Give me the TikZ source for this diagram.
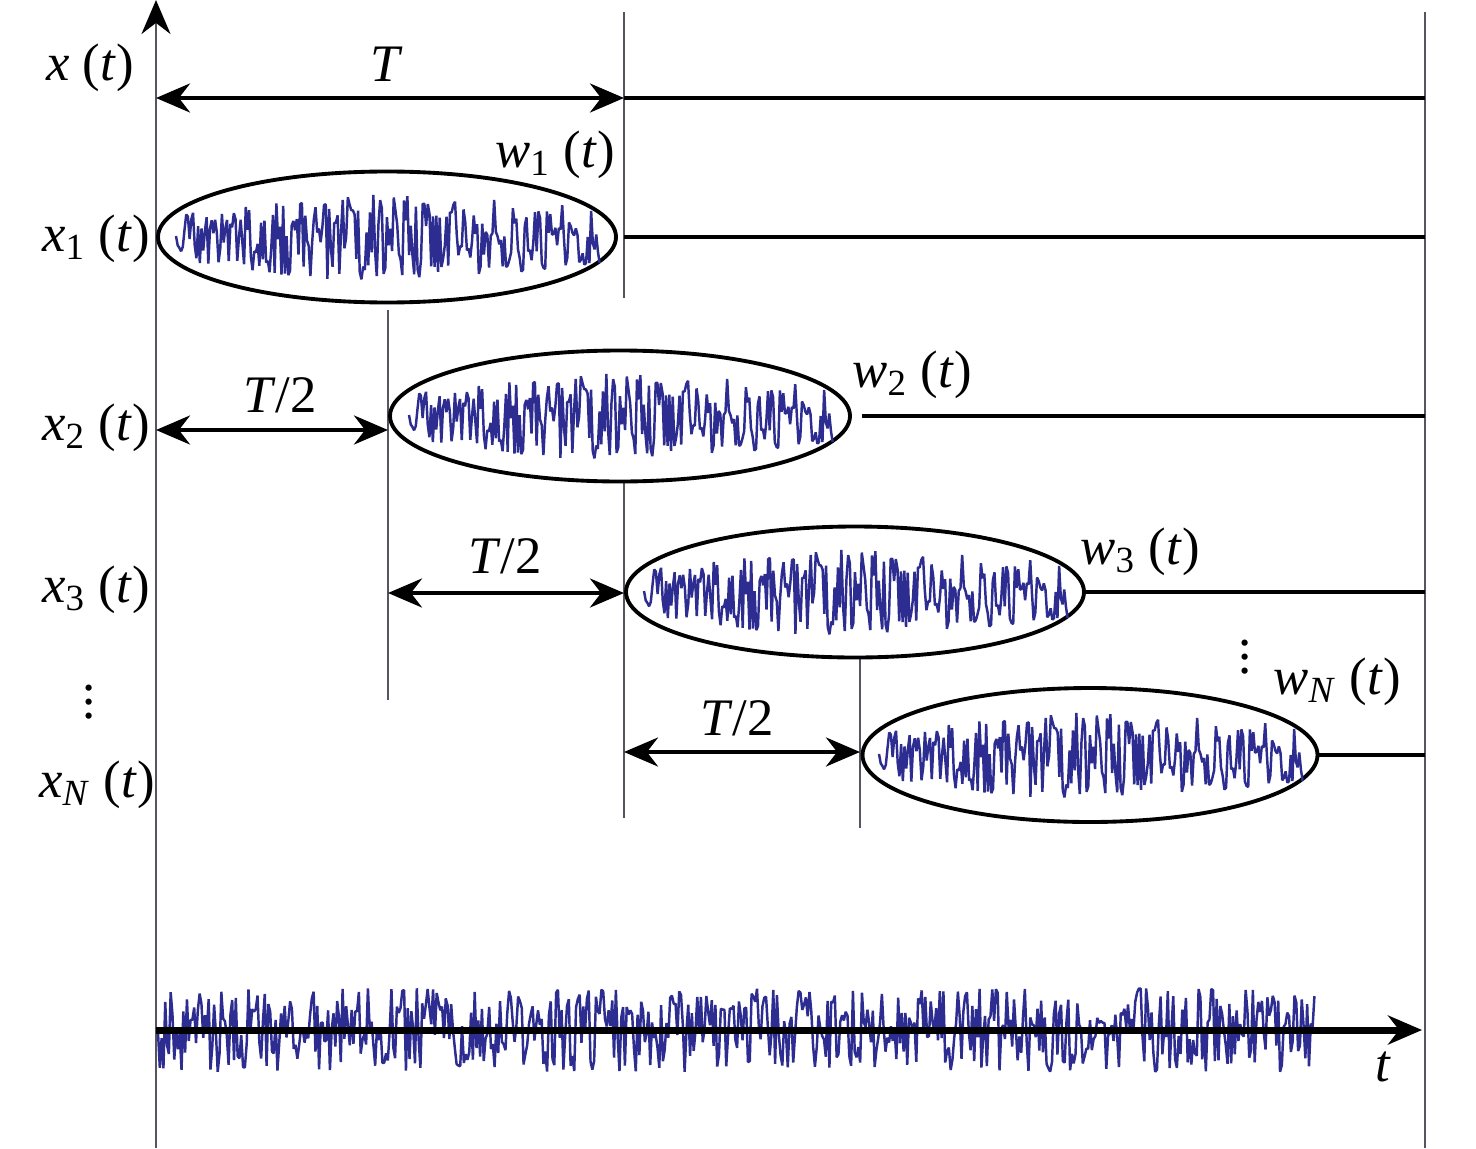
\documentclass[tikz,border=0pt]{standalone}
\usepackage{fontspec}
\setmainfont{Liberation Serif}
\usetikzlibrary{shapes.geometric}
\usetikzlibrary{positioning}
\usetikzlibrary{calc}
\usetikzlibrary{arrows.meta}
\definecolor{noiseblue}{RGB}{45,45,145}
\definecolor{rulegray}{RGB}{85,85,95}
\tikzset{every picture/.style={line width=1.1pt},every node/.style={font=\fontsize{15}{18}\selectfont}}

\begin{document}
\begin{tikzpicture}[win/.style={ellipse, draw, inner sep=0pt, minimum width=4.58cm, minimum height=1.31cm},
tick/.style={rulegray, line width=0.8pt},
dim/.style={{Stealth[length=0.34cm,width=0.29cm]}-{Stealth[length=0.34cm,width=0.29cm]}},
noise/.style={noiseblue, line width=0.7pt, line join=bevel}]
\useasboundingbox (0,0) rectangle (14.76,11.48);

% axis and right border
\coordinate (o) at (1.56,0);
\coordinate (otop) at (1.56,11.48);
\coordinate (r) at (14.25,0);
\coordinate (rtop) at (14.25,11.36);
\draw[tick,-{Stealth[length=0.34cm,width=0.29cm,black]}] (o) -- (otop);
\draw[tick] (r) -- (rtop);

% window borders
\foreach \i/\x/\ya/\yb in {1/6.24/11.36/8.50,2/3.88/8.38/4.48,3/6.24/6.68/3.30,4/8.60/4.90/3.20} {
\coordinate (t\i) at (\x,\ya);
\coordinate (u\i) at (\x,\yb);
\draw[tick] (t\i) -- (u\i);
}

% windows
\node (e1) at (3.87,9.11) [win] {};
\node (e2) at (6.20,7.32) [win, minimum width=4.60cm] {};
\node (e3) at (8.55,5.56) [win] {};
\node (e4) at (10.90,3.93) [win, minimum width=4.55cm, minimum height=1.34cm] {};
\foreach \e in {e1,e2,e3,e4} {
\pgfmathsetseed{11}
\draw[noise, shift={(\e.center)}] plot[domain=-2.11:2.13, samples=250] (\x,{0.43*rand*(1-0.4*(\x/2.2)^2)});
}

% spans
\coordinate (s0) at (1.56,10.50);
\coordinate (s1) at (6.24,10.50);
\draw[dim] (s0) -- (s1);
\node (lT) at (3.87,10.84) {\textit{T}};
\draw[dim] (o |- 0,7.18) -- (t2 |- 0,7.18);
\node (h1) at (2.80,7.53) {\textit{T}/2};
\draw[dim] (t2 |- 0,5.55) -- (t3 |- 0,5.55);
\node (h2) at (5.05,5.92) {\textit{T}/2};
\draw[dim] (t3 |- 0,3.96) -- (t4 |- 0,3.96);
\node (h3) at (7.37,4.30) {\textit{T}/2};

% levels to the right
\draw (s1) -- (r |- s1);
\draw (u1 |- e1) -- (r |- e1);
\draw ([xshift=0.1cm]e2.east) -- (r |- e2);
\draw (e3.east) -- (r |- e3);
\draw (e4.east) -- (r |- e4);

% labels
\node (x0) at (0.90,10.80) {\textit{x} (\textit{t})};
\node (x1) at (0.96,9.09) {\textit{x}\textsubscript{1} (\textit{t})};
\node (x2) at (0.96,7.20) {\textit{x}\textsubscript{2} (\textit{t})};
\node (x3) at (0.96,5.58) {\textit{x}\textsubscript{3} (\textit{t})};
\node (xd) at (0.89,4.56) {$\vdots$};
\node (xN) at (0.97,3.63) {\textit{x}\textsubscript{\textit{N}} (\textit{t})};
\node (w1) at (5.55,9.93) {\textit{w}\textsubscript{1} (\textit{t})};
\node (w2) at (9.12,7.73) {\textit{w}\textsubscript{2} (\textit{t})};
\node (w3) at (11.40,5.96) {\textit{w}\textsubscript{3} (\textit{t})};
\node (wd) at (12.45,5.01) {$\vdots$};
\node (wN) at (13.37,4.66) {\textit{w}\textsubscript{\textit{N}} (\textit{t})};

% full signal on time axis
\coordinate (b0) at (1.56,1.18);
\coordinate (b1) at (14.22,1.18);
\pgfmathsetseed{5}
\draw[noise] plot[domain=1.58:13.15, samples=640] (\x,{1.18+0.42*rand});
\draw[line width=2pt,-{Stealth[length=0.34cm,width=0.29cm]}] (b0) -- (b1);
\node (lt) at (13.83,0.81) {\textit{t}};
\end{tikzpicture}
\end{document}
